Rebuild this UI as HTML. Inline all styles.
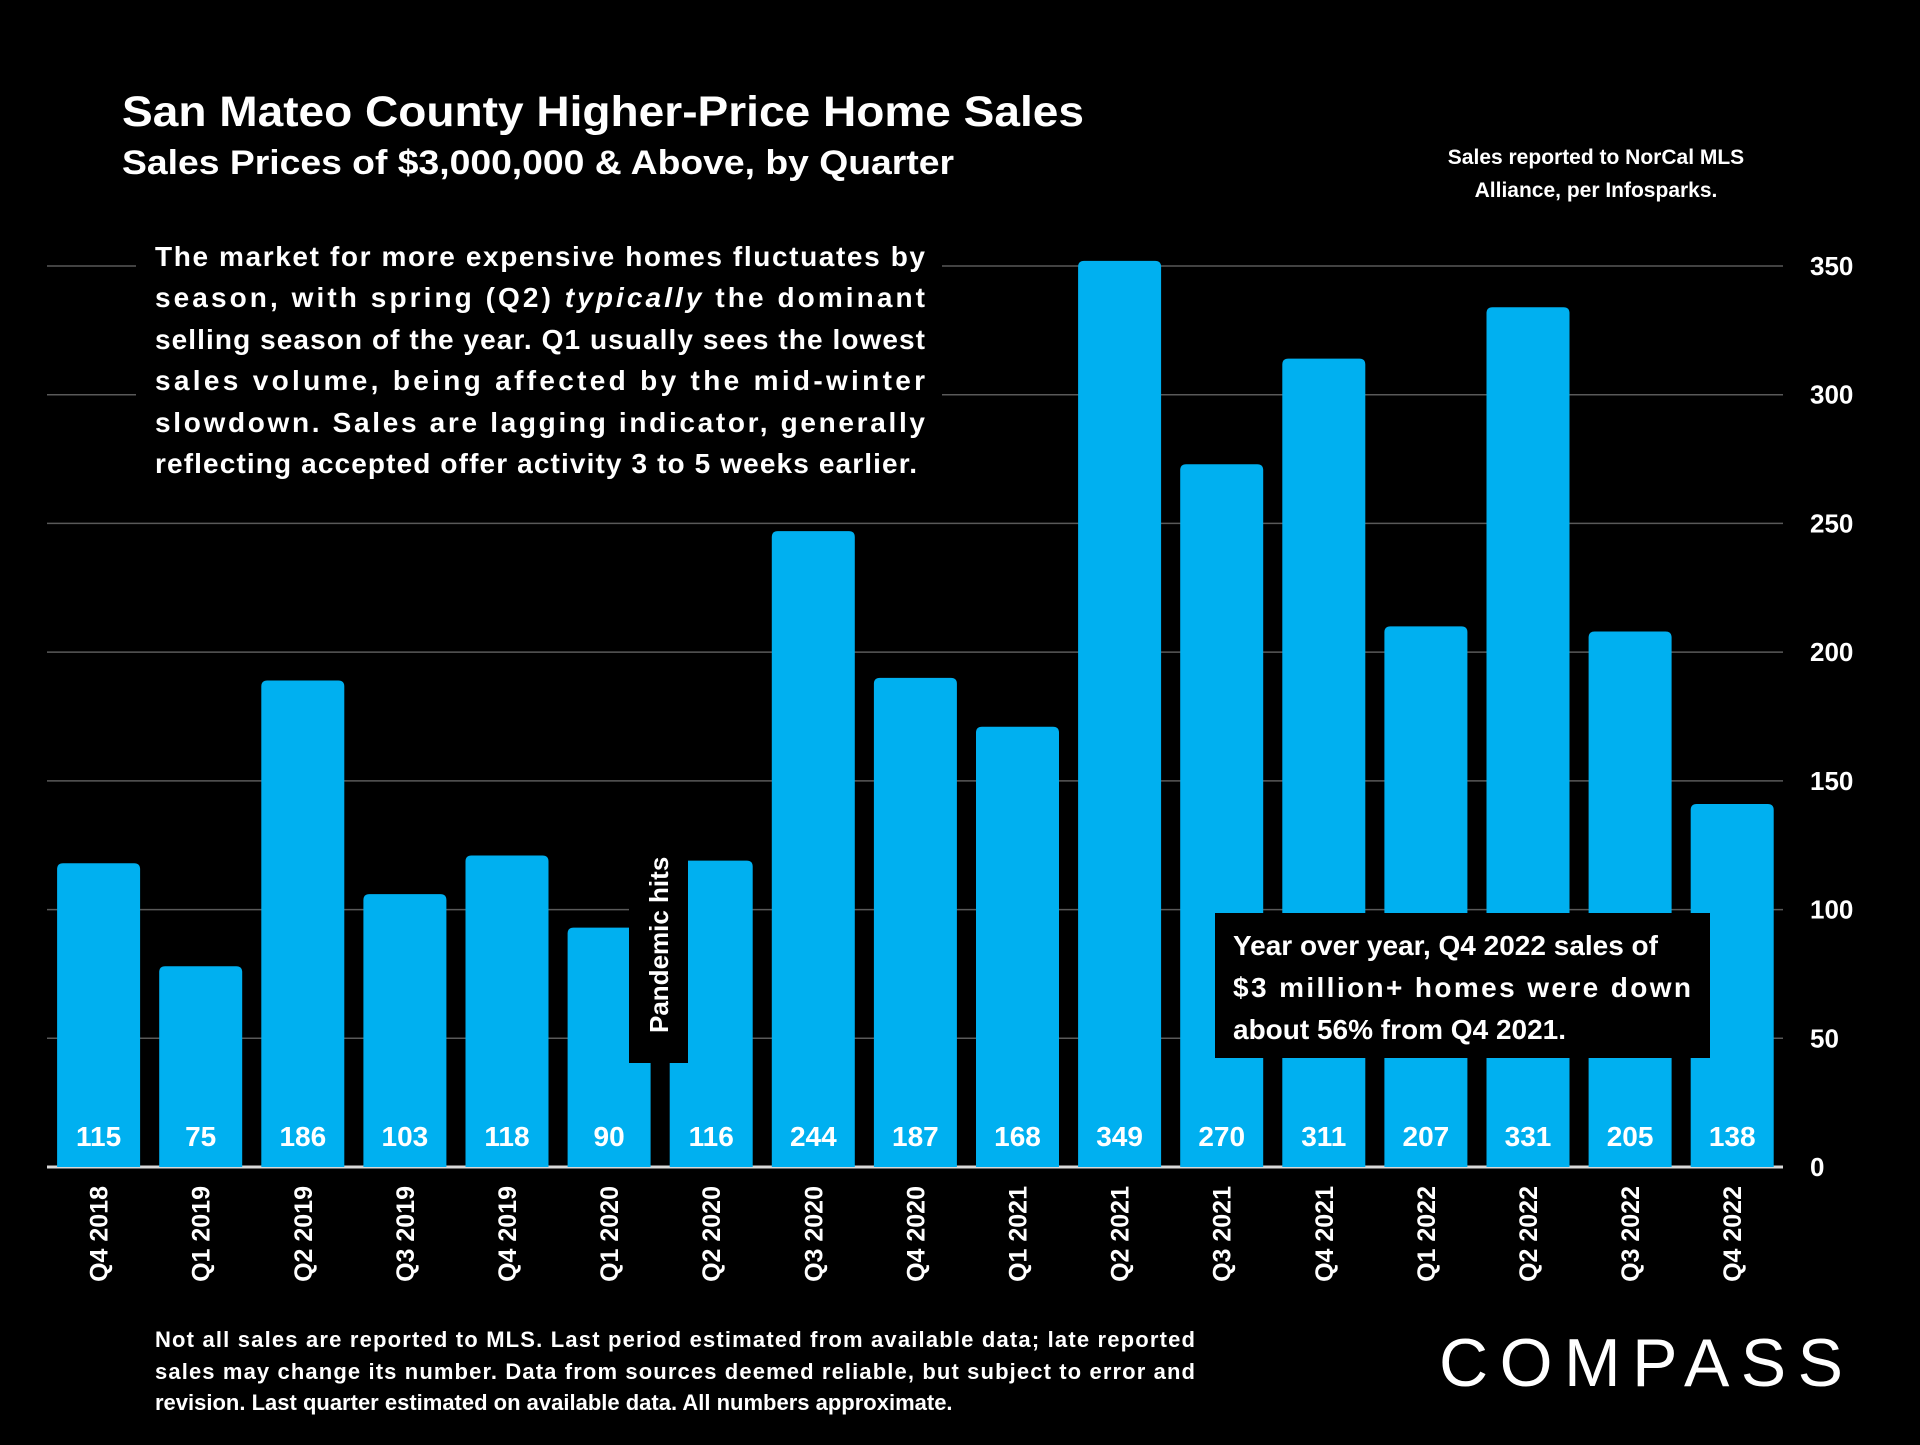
<!DOCTYPE html>
<html><head><meta charset="utf-8"><style>
body{margin:0;background:#000;width:1920px;height:1440px;overflow:hidden;font-family:"Liberation Sans",sans-serif;color:#fff}
</style></head><body>
<svg width="1920" height="1440" xmlns="http://www.w3.org/2000/svg" id="svg" font-family="Liberation Sans, sans-serif">
<rect width="1920" height="1440" fill="#000"/>
<text x="122" y="126" font-size="43" font-weight="bold" fill="#fff" textLength="962" lengthAdjust="spacingAndGlyphs">San Mateo County Higher-Price Home Sales</text>
<text x="122" y="174" font-size="34" font-weight="bold" fill="#fff" textLength="832" lengthAdjust="spacingAndGlyphs">Sales Prices of $3,000,000 &amp; Above, by Quarter</text>
<text x="1596" y="164" font-size="21" font-weight="bold" fill="#fff" text-anchor="middle"><tspan x="1596">Sales reported to NorCal MLS</tspan><tspan x="1596" dy="33">Alliance, per Infosparks.</tspan></text>
<g id="grid"></g>
<g id="bars"></g>
<g id="ticks"></g>
<rect x="136" y="238" width="806" height="248" fill="#000"/>
<text font-size="28" font-weight="bold" fill="#fff">
<tspan x="155" y="266" textLength="770" lengthAdjust="spacing">The market for more expensive homes fluctuates by</tspan>
<tspan x="155" y="307" textLength="770" lengthAdjust="spacing">season, with spring (Q2) <tspan font-style="italic">typically</tspan> the dominant</tspan>
<tspan x="155" y="349" textLength="770" lengthAdjust="spacing">selling season of the year. Q1 usually sees the lowest</tspan>
<tspan x="155" y="390" textLength="770" lengthAdjust="spacing">sales volume, being affected by the mid-winter</tspan>
<tspan x="155" y="432" textLength="770" lengthAdjust="spacing">slowdown. Sales are lagging indicator, generally</tspan>
<tspan x="155" y="473" textLength="762" lengthAdjust="spacing">reflecting accepted offer activity 3 to 5 weeks earlier.</tspan>
</text>
<rect x="629" y="845" width="59" height="218" fill="#000"/>
<text transform="translate(668,1033) rotate(-90)" font-size="26" font-weight="bold" fill="#fff">Pandemic hits</text>
<rect x="1215" y="913" width="495" height="145" fill="#000"/>
<text font-size="28" font-weight="bold" fill="#fff">
<tspan x="1233" y="955">Year over year, Q4 2022 sales of</tspan>
<tspan x="1233" y="997" textLength="458" lengthAdjust="spacing">$3 million+ homes were down</tspan>
<tspan x="1233" y="1039">about 56% from Q4 2021.</tspan>
</text>
<text font-size="22" font-weight="bold" fill="#fff">
<tspan x="155" y="1347" textLength="1040" lengthAdjust="spacing">Not all sales are reported to MLS. Last period estimated from available data; late reported</tspan>
<tspan x="155" y="1379" textLength="1040" lengthAdjust="spacing">sales may change its number. Data from sources deemed reliable, but subject to error and</tspan>
<tspan x="155" y="1410">revision. Last quarter estimated on available data. All numbers  approximate.</tspan>
</text>
<text x="1439" y="1386" font-size="68" fill="#fff" textLength="404" lengthAdjust="spacing">COMPASS</text>
</svg>
<script>
const categories=["Q4 2018","Q1 2019","Q2 2019","Q3 2019","Q4 2019","Q1 2020","Q2 2020","Q3 2020","Q4 2020","Q1 2021","Q2 2021","Q3 2021","Q4 2021","Q1 2022","Q2 2022","Q3 2022","Q4 2022"];
const salesValues=[115,75,186,103,118,90,116,244,187,168,349,270,311,207,331,205,138];
const yTicks=[0,50,100,150,200,250,300,350];
const NS="http://www.w3.org/2000/svg";
const y0=1167,yPer=901/350,x0=98.6,step=102.1,bw=83,barPad=3;
const yScale=v=>y0-v*yPer;
const xScale=i=>x0+i*step;
function mk(t,a,p){const e=document.createElementNS(NS,t);for(const k in a)e.setAttribute(k,a[k]);p.appendChild(e);return e;}
const grid=document.getElementById('grid'),bars=document.getElementById('bars'),ticks=document.getElementById('ticks');
yTicks.forEach(v=>{
  const l=mk('line',{x1:47,x2:1783,y1:yScale(v),y2:yScale(v),stroke:v===0?'#d9d9d9':'#595959','stroke-width':v===0?3:1.5},grid);
  
  
  const t=mk('text',{x:1810,y:yScale(v)+9,'font-size':26,'font-weight':'bold',fill:'#fff'},ticks);
  t.textContent=v;
  
  
});
salesValues.forEach((v,i)=>{
  const cx=xScale(i),top=yScale(v+barPad),r=6;
  const p=mk('path',{d:`M${cx-bw/2},${y0}V${top+r}Q${cx-bw/2},${top} ${cx-bw/2+r},${top}H${cx+bw/2-r}Q${cx+bw/2},${top} ${cx+bw/2},${top+r}V${y0}Z`,fill:'#00b0f0'},bars);
  
  
  const t=mk('text',{x:cx,y:1146,'font-size':28,'font-weight':'bold',fill:'#fff','text-anchor':'middle'},bars);
  t.textContent=v;
  
  
  const c=mk('text',{transform:`translate(${cx+9},1186) rotate(-90)`,'font-size':25,'font-weight':'bold',fill:'#fff','text-anchor':'end'},ticks);
  c.textContent=categories[i];
  
  
});
</script>
</body></html>
